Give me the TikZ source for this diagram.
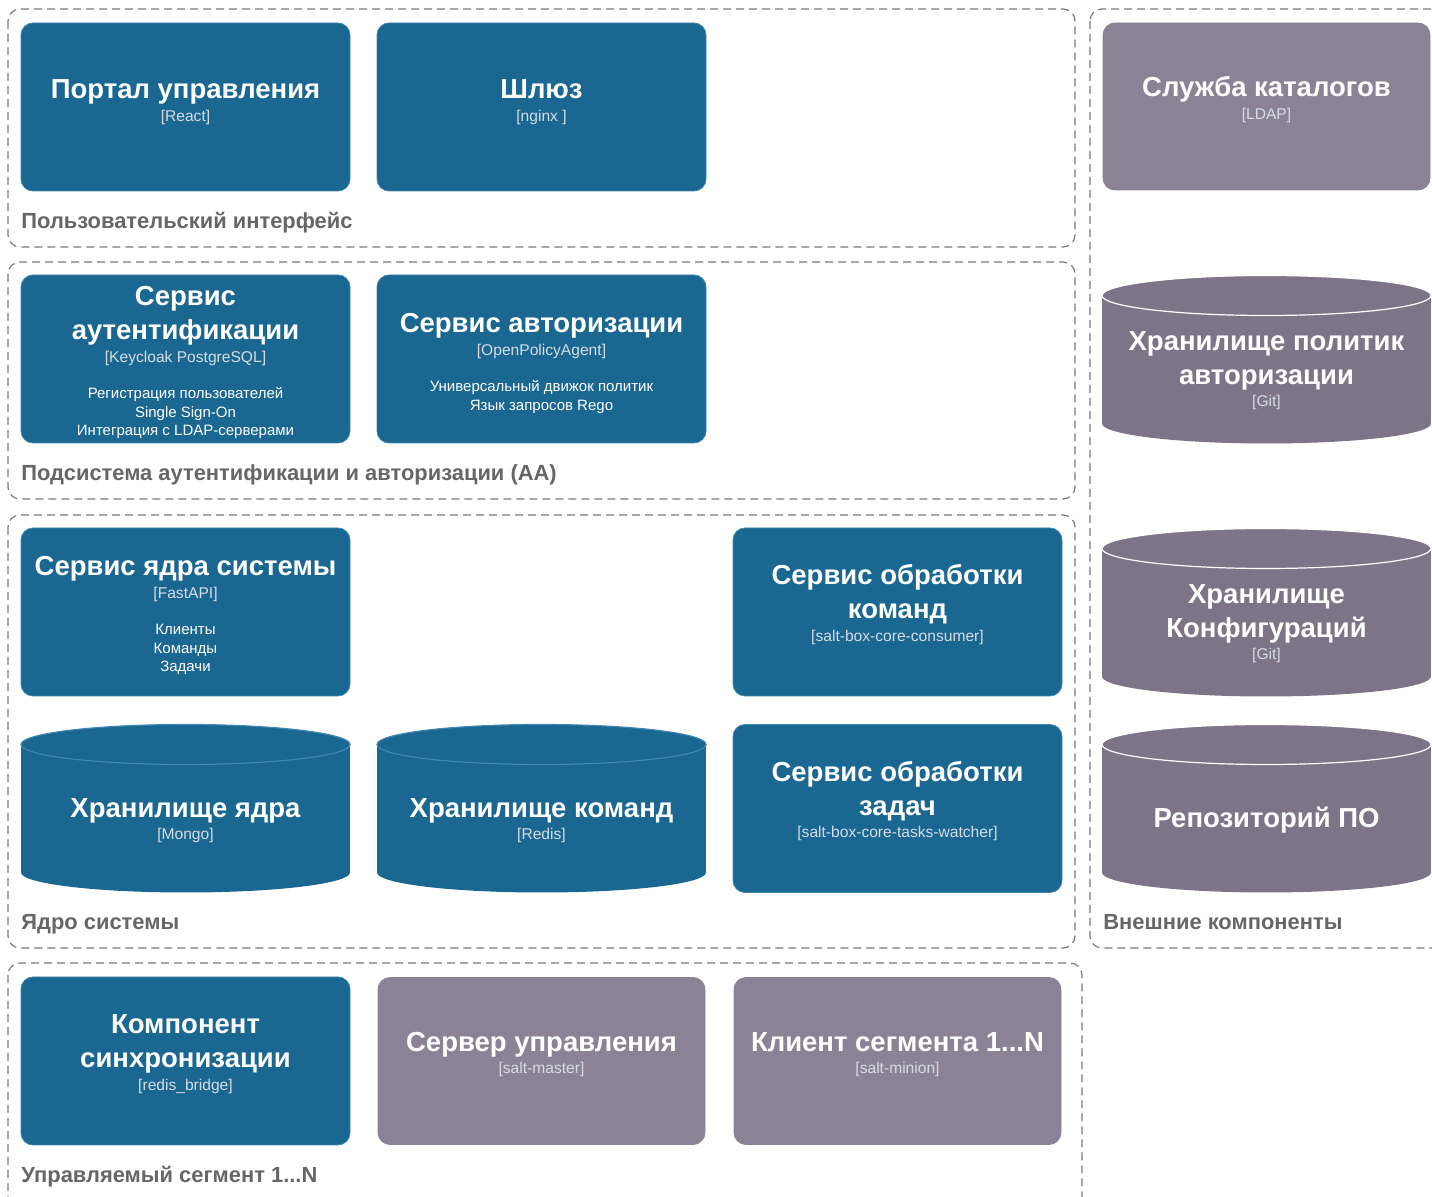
\documentclass[tikz,border=0pt]{standalone}
\usepackage{fontspec}
\setmainfont{Liberation Sans}
\usetikzlibrary{positioning}

\definecolor{contblue}{HTML}{1A6792}
\definecolor{contline}{HTML}{3F86B0}
\definecolor{extgray}{HTML}{8B8395}
\definecolor{dbgray}{HTML}{7D7587}
\definecolor{grpline}{HTML}{7A7A7A}
\definecolor{grptext}{HTML}{666666}
\definecolor{techtext}{HTML}{D5DCE3}

\setlength{\lineskiplimit}{-1000pt}
\newcommand\cttl{\bfseries\fontsize{13.75}{0pt}\selectfont\rule{0pt}{13pt}}
\newcommand\ctech{\color{techtext}\fontsize{7.8}{0pt}\selectfont}
\newcommand\cdesc{\fontsize{7.5}{0pt}\selectfont}

\tikzset{
  every node/.style={inner sep=0pt},
  cont/.style={rectangle, rounded corners=6pt, fill=contblue, draw=contline, line width=0.4pt,
    minimum width=164.5pt, minimum height=84pt},
  ext/.style={cont, fill=extgray, draw=extgray, minimum width=163.5pt, minimum height=83.5pt},
  ctext/.style={anchor=north, align=center, text=white, font=\fontsize{7.5}{0pt}\selectfont},
  grp/.style={draw=grpline, dash pattern=on 4pt off 2.5pt, line width=0.6pt, rounded corners=6pt},
  glabel/.style={anchor=base west, text=grptext, font=\bfseries\fontsize{10.95}{12}\selectfont},
  dbcyl/.pic={
    \fill (-164.5,-64) rectangle (164.5,64);
    \fill (0,64) ellipse [x radius=164.5, y radius=20];
    \filldraw[line width=0.6pt] (0,-64) ellipse [x radius=164.5, y radius=20];
  },
}

\begin{document}
\begin{tikzpicture}[x=0.5pt, y=-0.5pt]

        \useasboundingbox (0,0) rectangle (1432,1197);

        % groups
        \draw[grp] (8,9) rectangle (1075,247);
        \draw[grp] (8,262) rectangle (1075,499);
        \draw[grp] (8,515) rectangle (1075,948);
        \draw[grp] (8,963) rectangle (1082,1225);
        \draw[grp] (1090,9) rectangle (1460,948);

        \node[glabel] (ui-lbl) at (21,229) {Пользовательский интерфейс};
        \node[glabel] (aa-lbl) at (21,481) {Подсистема аутентификации и авторизации (АА)};
        \node[glabel] (core-lbl) at (21,930) {Ядро системы};
        \node[glabel] (seg-lbl) at (21,1183) {Управляемый сегмент 1...N};
        \node[glabel] (ext-lbl) at (1103,930) {Внешние компоненты};

        % user interface
        \node[cont] (portal) at (185.5,107) {};
        \node[ctext, below=25pt of portal.north] (portal-txt)
            {\cttl Портал управления\\[11.25pt]\ctech [React]};
        \node[cont] (gateway) at (541.5,107) {};
        \node[ctext, below=25pt of gateway.north] (gateway-txt)
            {\cttl Шлюз\\[11.25pt]\ctech [nginx ]};

        % AA
        \node[cont] (authn) at (185.5,359) {};
        \node[ctext, below=2.5pt of authn.north] (authn-txt)
            {\cttl Сервис\\[17pt]\cttl аутентификации\\[11.25pt]\ctech [Keycloak PostgreSQL]\\[18.25pt]
             \cdesc Регистрация пользователей\\[9.25pt]\cdesc Single Sign-On\\[9.25pt]\cdesc Интеграция с LDAP-серверами};
        \node[cont] (authz) at (541.5,359) {};
        \node[ctext, below=16pt of authz.north] (authz-txt)
            {\cttl Сервис авторизации\\[11.25pt]\ctech [OpenPolicyAgent]\\[18.25pt]
             \cdesc Универсальный движок политик\\[9.25pt]\cdesc Язык запросов Rego};

        % core
        \node[cont] (core) at (185.5,612) {};
        \node[ctext, below=11pt of core.north] (core-txt)
            {\cttl Сервис ядра системы\\[11.25pt]\ctech [FastAPI]\\[18.25pt]
             \cdesc Клиенты\\[9.25pt]\cdesc Команды\\[9.25pt]\cdesc Задачи};
        \node[cont] (consumer) at (897.5,612) {};
        \node[ctext, below=15.5pt of consumer.north] (consumer-txt)
            {\cttl Сервис обработки\\[17pt]\cttl команд\\[11.25pt]\ctech [salt-box-core-consumer]};
        \node[cont] (watcher) at (897.5,808.5) {};
        \node[ctext, below=15.5pt of watcher.north] (watcher-txt)
            {\cttl Сервис обработки\\[17pt]\cttl задач\\[11.25pt]\ctech [salt-box-core-tasks-watcher]};

        \pic[fill=contblue, draw=contline] at (185.5,808.5) {dbcyl};
        \node[ctext] (coredb) at (185.5,791) {\cttl Хранилище ядра\\[11.25pt]\ctech [Mongo]};
        \pic[fill=contblue, draw=contline] at (541.5,808.5) {dbcyl};
        \node[ctext] (cmddb) at (541.5,791) {\cttl Хранилище команд\\[11.25pt]\ctech [Redis]};

        % managed segment
        \node[cont] (bridge) at (185.5,1061) {};
        \node[ctext, below=15.5pt of bridge.north] (bridge-txt)
            {\cttl Компонент\\[17pt]\cttl синхронизации\\[11.25pt]\ctech [redis\_bridge]};
        \node[ext] (master) at (541.5,1061) {};
        \node[ctext, below=24pt of master.north] (master-txt)
            {\cttl Сервер управления\\[11.25pt]\ctech [salt-master]};
        \node[ext] (minion) at (897.5,1061) {};
        \node[ctext, below=24pt of minion.north] (minion-txt)
            {\cttl Клиент сегмента 1...N\\[11.25pt]\ctech [salt-minion]};

        % external
        \node[ext] (ldap) at (1266.5,106.5) {};
        \node[ctext, below=24pt of ldap.north] (ldap-txt)
            {\cttl Служба каталогов\\[11.25pt]\ctech [LDAP]};

        \pic[fill=dbgray, draw=white] at (1266.5,359.5) {dbcyl};
        \node[ctext] (policydb) at (1266.5,324)
            {\cttl Хранилище политик\\[17pt]\cttl авторизации\\[11.25pt]\ctech [Git]};
        \pic[fill=dbgray, draw=white] at (1266.5,612.5) {dbcyl};
        \node[ctext] (confdb) at (1266.5,577)
            {\cttl Хранилище\\[17pt]\cttl Конфигураций\\[11.25pt]\ctech [Git]};
        \pic[fill=dbgray, draw=white] at (1266.5,808.5) {dbcyl};
        \node[ctext] (swrepo) at (1266.5,801) {\cttl Репозиторий ПО};

\end{tikzpicture}
\end{document}
